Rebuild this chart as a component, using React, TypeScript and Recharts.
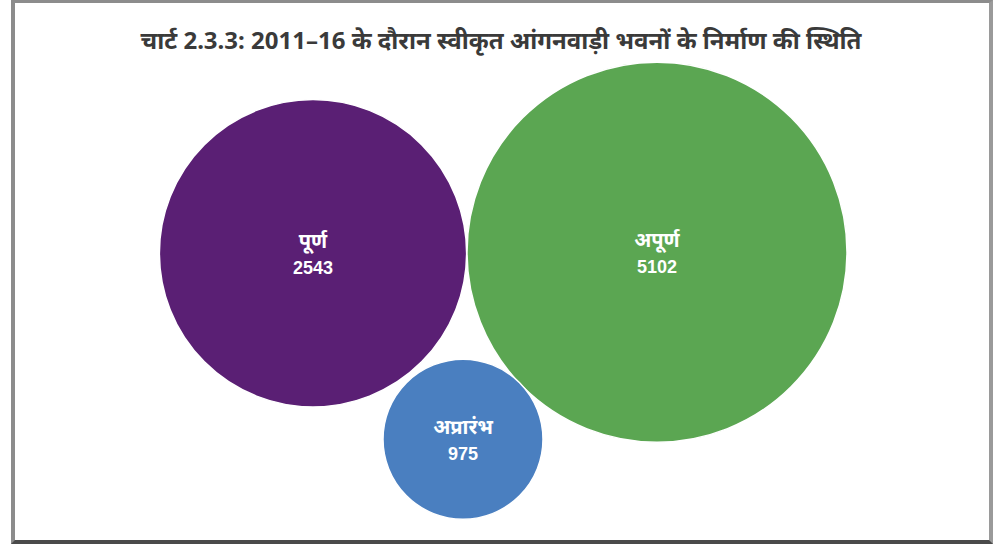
import React from 'react';
import { ScatterChart, Scatter, XAxis, YAxis, ZAxis, Cell } from 'recharts';

const categories = ['पूर्ण', 'अपूर्ण', 'अप्रारंभ'];
const values = [2543, 5102, 975];
const xValues = [31.3, 65.7, 46.3];
const yValues = [53.7, 53.9, 19.7];
const COLORS = ['#5a1f74', '#5ba652', '#4a7fc0'];
const TITLE = 'चार्ट 2.3.3: 2011–16 के दौरान स्वीकृत आंगनवाड़ी भवनों के निर्माण की स्थिति';

const data = categories.map((name, i) => ({ name, x: xValues[i], y: yValues[i], z: values[i] }));

const W = 1000;
const H = 547;

const Bubble = (props: any) => {
  const { cx, cy, size, fill, payload } = props;
  if (cx == null || cy == null) return null;
  const r = Math.sqrt(size / Math.PI);
  return (
    <g>
      <circle cx={cx} cy={cy} r={r} fill={fill} stroke="#ffffff" strokeWidth={1.5} />
      <text x={cx} y={cy - 13} textAnchor="middle" dominantBaseline="central" fill="#ffffff"
        fontSize={20} fontWeight="bold" fontFamily="'Noto Sans', 'Liberation Sans', sans-serif">
        {payload.name}
      </text>
      <text x={cx} y={cy + 15} textAnchor="middle" dominantBaseline="central" fill="#ffffff"
        fontSize={18} fontWeight="bold" fontFamily="'Liberation Sans', Arial, sans-serif">
        {payload.z}
      </text>
    </g>
  );
};

export default function App() {
  return (
    <div style={{ position: 'absolute', left: 0, top: 0, width: W, height: H, background: '#ffffff' }}>
      <div
        style={{
          position: 'absolute',
          left: 11,
          top: 0,
          width: 982,
          height: 544,
          boxSizing: 'border-box',
          borderTop: '3px solid #8c8c8c',
          borderLeft: '4px solid #8c8c8c',
          borderRight: '4px solid #9a9a9a',
          borderBottom: '4px solid #4a4a4a',
        }}
      />
      <div style={{ position: 'absolute', left: 0, top: 0 }}>
        <ScatterChart width={W} height={H} margin={{ top: 0, right: 0, bottom: 0, left: 0 }}>
          <XAxis type="number" dataKey="x" domain={[0, 100]} hide />
          <YAxis type="number" dataKey="y" domain={[0, 100]} hide />
          <ZAxis type="number" dataKey="z" scale="log" domain={[975, 5102]} range={[20106, 113411]} />
          <text x={501} y={39} textAnchor="middle" dominantBaseline="central" fill="#3a3a3a"
            fontSize={24} fontWeight="bold" fontFamily="'Noto Sans', 'Liberation Sans', sans-serif">
            {TITLE}
          </text>
          <Scatter data={data} shape={<Bubble />} isAnimationActive={false}>
            {data.map((d, i) => (
              <Cell key={d.name} fill={COLORS[i]} />
            ))}
          </Scatter>
        </ScatterChart>
      </div>
    </div>
  );
}
